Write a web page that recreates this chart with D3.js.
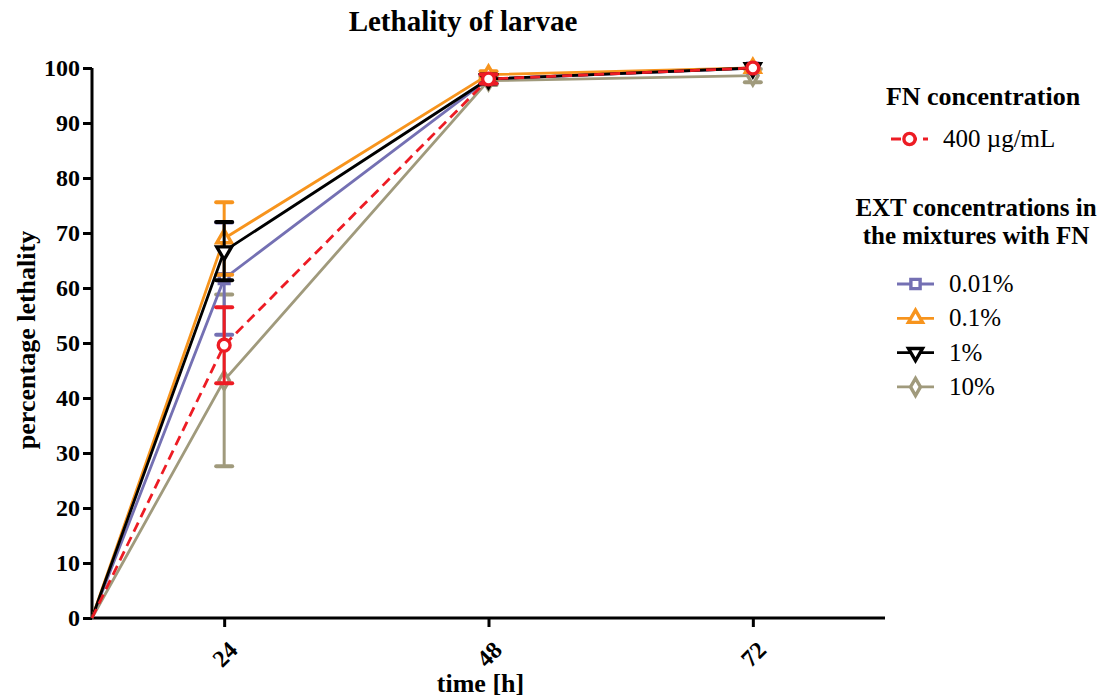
<!DOCTYPE html>
<html>
<head>
<meta charset="utf-8">
<script src="https://cdn.jsdelivr.net/npm/d3@7"></script>
<style>
  body { margin: 0; background: #fff; }
  text { font-family: "Liberation Serif", "Times New Roman", serif; }
</style>
</head>
<body>
<div id="vis"></div>
<script>
// time points (the "0 h" point sits at the start of the axis, like the original)
var times = [12, 24, 48, 72];
var tickHours = [24, 48, 72];

var seriesNames = ['400 µg/mL', '0.01%', '0.1%', '1%', '10%'];
var seriesColors = ['#ed1c24', '#7470b3', '#f7941d', '#000000', '#a09a7c'];
var seriesShapes = ['circle', 'square', 'triangle', 'down', 'diamond'];

// mean % lethality
var fnMean   = [0, 49.6, 98.0, 100];
var ext001   = [0, 61.7, 98.0, 100];
var ext01    = [0, 69.0, 98.8, 100];
var ext1     = [0, 66.7, 98.0, 100];
var ext10    = [0, 43.2, 97.7, 98.6];
// SD
var fnSd     = [0, 6.9, 0.8, 0];
var ext001Sd = [0, 10.2, 0.8, 0];
var ext01Sd  = [0, 6.6, 0.6, 0];
var ext1Sd   = [0, 5.3, 0.8, 0];
var ext10Sd  = [0, 15.6, 0.8, 1.2];

var means = [fnMean, ext001, ext01, ext1, ext10];
var sds = [fnSd, ext001Sd, ext01Sd, ext1Sd, ext10Sd];

var width = 1107, height = 697;
var svg = d3.select('#vis').append('svg')
  .attr('width', width).attr('height', height);

var x = d3.scaleLinear().domain([12, 84]).range([92, 885]);
var y = d3.scaleLinear().domain([0, 100]).range([618, 68]);

var serif = '"Liberation Serif", "Times New Roman", serif';

// title
svg.append('text')
  .attr('x', 463).attr('y', 31)
  .attr('text-anchor', 'middle')
  .style('font-size', '29px').style('font-weight', 'bold')
  .text('Lethality of larvae');

// y axis
var yAxis = svg.append('g')
  .attr('transform', 'translate(' + x.range()[0] + ',0)')
  .call(d3.axisLeft(y).tickValues(d3.range(0, 101, 10)).tickSize(9).tickPadding(3));
yAxis.select('.domain').attr('stroke-width', 3).attr('d', 'M0,' + y(100) + 'V' + y(0));
yAxis.selectAll('.tick line').attr('stroke-width', 3);
yAxis.selectAll('.tick text')
  .style('font-size', '24px').style('font-weight', 'bold')
  .style('font-family', serif)
  .attr('fill', '#000');

// x axis
var xAxis = svg.append('g')
  .attr('transform', 'translate(0,' + y(0) + ')')
  .call(d3.axisBottom(x).tickValues(tickHours).tickSize(9).tickFormat(d3.format('d')));
xAxis.select('.domain').attr('stroke-width', 3).attr('d', 'M' + x.range()[0] + ',0H' + x.range()[1]);
xAxis.selectAll('.tick line').attr('stroke-width', 3);
xAxis.selectAll('.tick text')
  .style('font-size', '24px').style('font-weight', 'bold')
  .style('font-family', serif)
  .attr('fill', '#000')
  .attr('text-anchor', 'middle')
  .attr('transform', 'translate(0,36) rotate(-45)')
  .attr('y', 0).attr('dy', '0.35em');

// axis titles
svg.append('text')
  .attr('transform', 'translate(35,' + (y(50) - 3) + ') rotate(-90)')
  .attr('text-anchor', 'middle')
  .style('font-size', '26px').style('font-weight', 'bold')
  .text('percentage lethality');
svg.append('text')
  .attr('x', x(48) - 8).attr('y', 692)
  .attr('text-anchor', 'middle')
  .style('font-size', '26px').style('font-weight', 'bold')
  .text('time [h]');

function symbolPath(shape, s) {
  var t = { circle: d3.symbolCircle, square: d3.symbolSquare, triangle: d3.symbolTriangle,
            down: d3.symbolTriangle, diamond: d3.symbolDiamond }[shape];
  return d3.symbol().type(t).size(s)();
}

function drawMarker(g, i, cx, cy, sz) {
  var base = seriesShapes[i] === 'circle' ? 110 : 95;
  return g.append('path')
    .attr('d', symbolPath(seriesShapes[i], base * (sz || 1)))
    .attr('fill', '#fff')
    .attr('stroke', seriesColors[i])
    .attr('stroke-width', 3.4)
    .attr('transform', 'translate(' + cx + ',' + cy + ')' + (seriesShapes[i] === 'down' ? ' rotate(180)' : ''));
}

var line = d3.line().x(function (d) { return x(d[0]); }).y(function (d) { return y(d[1]); });

// draw order: gray, purple, orange, black, red on top
var order = [4, 1, 2, 3, 0];
order.forEach(function (i) {
  var g = svg.append('g');
  var pts = times.map(function (t, j) { return [t, means[i][j]]; });

  // error bars
  times.forEach(function (t, j) {
    if (sds[i][j] <= 0) return;
    var lo = means[i][j] - sds[i][j], hi = Math.min(means[i][j] + sds[i][j], 100.6);
    g.append('line')
      .attr('x1', x(t)).attr('x2', x(t))
      .attr('y1', y(lo)).attr('y2', y(hi))
      .attr('stroke', seriesColors[i]).attr('stroke-width', 3);
    [lo, hi].forEach(function (v) {
      g.append('line')
        .attr('x1', x(t) - 8).attr('x2', x(t) + 8)
        .attr('y1', y(v)).attr('y2', y(v))
        .attr('stroke', seriesColors[i]).attr('stroke-width', 4)
        .attr('stroke-linecap', 'round');
    });
  });

  g.append('path')
    .attr('d', line(pts))
    .attr('fill', 'none')
    .attr('stroke', seriesColors[i])
    .attr('stroke-width', 2.8)
    .attr('stroke-dasharray', i === 0 ? '10,6' : null);

  pts.slice(1).forEach(function (p) { drawMarker(g, i, x(p[0]), y(p[1])); });
});

// legend
var leg = svg.append('g');
leg.append('text')
  .attr('x', 983).attr('y', 105).attr('text-anchor', 'middle')
  .style('font-size', '26px').style('font-weight', 'bold')
  .text('FN concentration');

function legendEntry(i, x0, x1, cy, tx) {
  leg.append('line')
    .attr('x1', x0).attr('x2', x1).attr('y1', cy).attr('y2', cy)
    .attr('stroke', seriesColors[i]).attr('stroke-width', 2.8)
    .attr('stroke-dasharray', i === 0 ? '10,6' : null);
  drawMarker(leg, i, (x0 + x1) / 2, cy, 0.9);
  leg.append('text')
    .attr('x', tx).attr('y', cy + 8)
    .style('font-size', '25px')
    .text(seriesNames[i]);
}

legendEntry(0, 891, 928, 139, 943);

leg.append('text')
  .attr('x', 976).attr('y', 216).attr('text-anchor', 'middle')
  .style('font-size', '25px').style('font-weight', 'bold')
  .text('EXT concentrations in');
leg.append('text')
  .attr('x', 976).attr('y', 244).attr('text-anchor', 'middle')
  .style('font-size', '25px').style('font-weight', 'bold')
  .text('the mixtures with FN');

[1, 2, 3, 4].forEach(function (i, k) {
  legendEntry(i, 897, 934, 284 + k * 34.3, 949);
});
</script>
</body>
</html>
